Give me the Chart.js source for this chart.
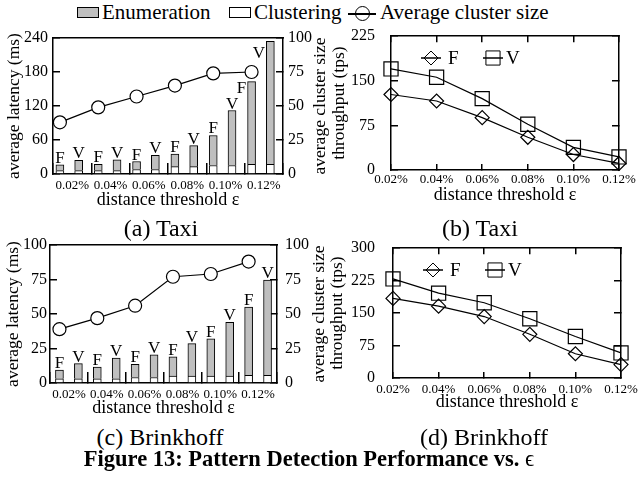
<!DOCTYPE html>
<html>
<head>
<meta charset="utf-8">
<script src="https://cdn.jsdelivr.net/npm/chart.js@4.4.0/dist/chart.umd.min.js"></script>
<style>
body{margin:0;width:639px;height:478px;background:#fff;position:relative;overflow:hidden;font-family:"Liberation Serif","Times New Roman",serif;color:#000}
canvas{position:absolute}
.t{position:absolute;white-space:nowrap;line-height:1}
.lg{top:2px;font-size:21px}
.cap{font-size:24px;transform:translate(-50%,-50%)}
</style>
</head>
<body>
<!-- shared legend -->
<div class="t" style="left:77px;top:7px;width:20px;height:9px;border:1.5px solid #000;background:#bfbfbf"></div>
<div class="t lg" style="left:102px">Enumeration</div>
<div class="t" style="left:229px;top:7px;width:20px;height:9px;border:1.5px solid #000;background:#fff"></div>
<div class="t lg" style="left:254px">Clustering</div>
<div class="t" style="left:348px;top:13px;width:28px;height:1.5px;background:#000"></div>
<div class="t" style="left:355px;top:6px;width:15px;height:15px;border:1.5px solid #000;border-radius:50%;box-sizing:border-box"></div>
<div class="t lg" style="left:380px">Average cluster size</div>

<canvas id="ca" width="332" height="186" style="left:0;top:30px"></canvas>
<canvas id="cb" width="319" height="185" style="left:320px;top:25px"></canvas>
<canvas id="cc" width="332" height="186" style="left:0;top:237px"></canvas>
<canvas id="cd" width="319" height="185" style="left:320px;top:237px"></canvas>

<div class="t cap" style="left:161px;top:228px">(a) Taxi</div>
<div class="t cap" style="left:480px;top:228px">(b) Taxi</div>
<div class="t cap" style="left:160px;top:437px">(c) Brinkhoff</div>
<div class="t cap" style="left:484px;top:437px">(d) Brinkhoff</div>
<div class="t" style="left:309px;top:459px;transform:translate(-50%,-50%);font-size:22.5px;font-weight:bold">Figure 13: Pattern Detection Performance vs. <span style="font-weight:normal">ϵ</span></div>

<script>
// ── data ──
const catLabels=['0.02%','0.04%','0.06%','0.08%','0.10%','0.12%'];
const tagNames=['F','V'];

// (a) Taxi: latency split into clustering (bottom) + enumeration (top), ms
const taxiClusF=[6,6,8,13,15,17];
const taxiClusV=[6,6,8,13,15,17];
const taxiEnumF=[10,11,14,22,53,146];
const taxiEnumV=[18,19,25,37,97,217];
const taxiSize=[38,49,57,65,74,75];
// (b) Taxi throughput, tps
const taxiTpsF=[127,116,88,55,26,11];
const taxiTpsV=[170,156,120,77,38,22];
// (c) Brinkhoff latency, ms
const brClusF=[3,3,4,5,5,5.5];
const brClusV=[3,3,4,5,5,5.5];
const brEnumF=[6.3,8.5,9.5,14,27,49.5];
const brEnumV=[11,15,16.5,23.5,39,69];
const brSize=[39,47,56,77,79,88];
// (d) Brinkhoff throughput, tps
const brTpsF=[184,166,142,101,56,31];
const brTpsV=[229,196,174,137,96,58];

Chart.defaults.font.family="'Liberation Serif','Times New Roman',serif";
Chart.defaults.color='#000';

// ── text decorations: F/V tags on bars, right-hand title, in-plot key ──
function drawTags(chart,o){
  const ctx=chart.ctx;const meta=chart.getDatasetMeta(o.ds);
  ctx.save();ctx.font="17px 'Liberation Serif'";ctx.fillStyle='#000';ctx.textAlign='center';ctx.textBaseline='alphabetic';
  meta.data.forEach((el,i)=>{const s=(o.shift||{})[i]||[0,0];ctx.fillText(tagNames[i%2],el.x+s[0],el.y-2+s[1]);});
  ctx.restore();
}
function drawSide(chart,o){
  const ctx=chart.ctx,a=chart.chartArea;
  ctx.save();ctx.translate(a.right+o.dx,(a.top+a.bottom)/2);ctx.rotate(-Math.PI/2);
  ctx.font="17.5px 'Liberation Serif'";ctx.textAlign='center';ctx.textBaseline='middle';ctx.fillStyle='#000';
  ctx.fillText(o.text,0,0);ctx.restore();
}
function drawKey(chart,o){
  const ctx=chart.ctx,a=chart.chartArea;
  ctx.save();ctx.strokeStyle='#000';ctx.lineWidth=1.5;ctx.font="19px 'Liberation Serif'";ctx.textBaseline='middle';ctx.textAlign='left';
  chart.data.datasets.forEach((ds,i)=>{
    const x=a.left+o.at[i],y=Math.round(a.top+o.y);
    ctx.beginPath();ctx.moveTo(x-10,y);ctx.lineTo(x+10,y);ctx.stroke();
    ctx.fillStyle='rgba(0,0,0,0)';ctx.lineWidth=1;
    Chart.helpers.drawPoint(ctx,{pointStyle:ds.pointStyle,radius:ds.pointRadius,rotation:0,borderWidth:1},x,y);
    ctx.lineWidth=1.5;ctx.fillStyle='#000';ctx.fillText(ds.label,x+o.tx[i],y+1);
  });
  ctx.restore();
}
const deco={id:'deco',afterDraw(chart,args,o){
  if(o.tags)drawTags(chart,o.tags);
  if(o.side)drawSide(chart,o.side);
  if(o.key)drawKey(chart,o.key);
}};
Chart.register(deco);

function fixBox(w,h){return s=>{if(w!=null)s.width=w;if(h!=null)s.height=h;s.paddingLeft=s.paddingRight=s.paddingTop=s.paddingBottom=0;};}
// axis line + tick marks pointing into the plot (negative tick length)
const edge={display:true,color:'#000',width:1.5};
const inTicks=(len,offset)=>({display:true,drawOnChartArea:false,drawTicks:true,tickLength:-len,color:'#000',lineWidth:1.5,offset:!!offset});
const noGrid={display:false,drawTicks:false};

// ── latency charts (stacked bars + cluster size line) ──
function latencyChart(id,o){
  const pts=(f,v)=>f.flatMap((fv,i)=>[{x:i+o.offF,y:fv},{x:i+o.offV,y:v[i]}]);
  return new Chart(document.getElementById(id),{type:'bar',data:{datasets:[
    {type:'line',label:'Average cluster size',yAxisID:'y1',order:0,data:o.size.map((s,i)=>({x:i+o.offF,y:s})),
     borderColor:'#000',borderWidth:1.2,tension:0,pointRadius:6.5,pointBackgroundColor:'#fff',pointBorderColor:'#000',pointBorderWidth:1.2,clip:false},
    {label:'Clustering',stack:'s',order:1,data:pts(o.clusF,o.clusV),backgroundColor:'#fff',borderColor:'#000',borderWidth:1,barThickness:8},
    {label:'Enumeration',stack:'s',order:1,data:pts(o.enumF,o.enumV),backgroundColor:'#bfbfbf',borderColor:'#000',borderWidth:1,barThickness:8}
  ]},options:{responsive:false,animation:false,
    layout:{padding:{top:o.top,left:0,right:0,bottom:0}},
    plugins:{legend:{display:false},tooltip:{enabled:false},
      deco:{tags:{ds:2,shift:o.shift},side:{text:'average cluster size',dx:o.rtx}}},
    scales:{
      x:{type:'linear',min:0,max:6,offset:false,stacked:true,grid:inTicks(11,true),border:edge,
        afterBuildTicks:s=>{s.ticks=catLabels.map((_,i)=>({value:i+0.5}));},
        ticks:{autoSkip:false,maxRotation:0,padding:o.xpad+11,font:{size:13},callback:(v,i)=>catLabels[i]},
        title:{display:true,text:'distance threshold ε',font:{size:18},padding:{top:0,bottom:o.xtp}},
        afterFit:fixBox(null,o.xh)},
      xTop:{type:'linear',position:'top',min:0,max:6,offset:false,grid:noGrid,border:edge,ticks:{display:false},afterFit:fixBox(null,0)},
      y:{position:'left',stacked:true,min:0,max:o.ymax,grid:inTicks(7),border:edge,
        ticks:{stepSize:o.ystep,padding:o.ypad+7,font:{size:16}},
        title:{display:true,text:'average latency (ms)',font:{size:17.5},padding:{top:o.ytp,bottom:0}},
        afterFit:fixBox(o.yw,null)},
      y1:{position:'right',min:0,max:100,grid:inTicks(7),border:edge,
        ticks:{stepSize:25,padding:o.y1pad+7,font:{size:16}},
        afterFit:fixBox(o.y1w,null)}
    }}});
}

// ── throughput charts ──
function tpsChart(id,o){
  const mk=a=>a.map((v,i)=>({x:i,y:v}));
  return new Chart(document.getElementById(id),{type:'line',data:{datasets:[
    {label:'F',data:mk(o.f),borderColor:'#000',borderWidth:1.2,tension:0,pointStyle:'rectRot',pointRadius:7,
     pointBorderColor:'#000',pointBackgroundColor:'rgba(0,0,0,0)',pointBorderWidth:1.2,clip:false},
    {label:'V',data:mk(o.v),borderColor:'#000',borderWidth:1.2,tension:0,pointStyle:'rect',pointRadius:10,
     pointBorderColor:'#000',pointBackgroundColor:'rgba(0,0,0,0)',pointBorderWidth:1.2,clip:false}
  ]},options:{responsive:false,animation:false,
    layout:{padding:{top:o.top,left:0,right:o.right,bottom:0}},
    plugins:{legend:{display:false},tooltip:{enabled:false},
      deco:{key:{at:[40,102],y:22,tx:[17,13]}}},
    scales:{
      x:{type:'linear',min:0,max:5,grid:inTicks(6),border:edge,
        ticks:{stepSize:1,autoSkip:false,maxRotation:0,padding:o.xpad+6,font:{size:13},callback:v=>catLabels[v]},
        title:{display:true,text:'distance threshold ε',font:{size:18},padding:{top:0,bottom:o.xtp}},
        afterFit:fixBox(null,o.xh)},
      xTop:{type:'linear',position:'top',min:0,max:5,grid:inTicks(6),border:edge,
        ticks:{stepSize:1,display:false},afterFit:fixBox(null,0)},
      y:{min:0,max:o.ymax,grid:inTicks(7),border:edge,
        ticks:{stepSize:75,padding:o.ypad+7,font:{size:16}},
        title:{display:true,text:'throughput (tps)',font:{size:17.5},padding:{top:o.ytp,bottom:0}},
        afterFit:fixBox(o.yw,null)},
      yR:{type:'linear',position:'right',min:0,max:o.ymax,grid:inTicks(7),border:edge,
        ticks:{stepSize:75,display:false},afterFit:fixBox(0,null)}
    }}});
}

latencyChart('ca',{clusF:taxiClusF,clusV:taxiClusV,enumF:taxiEnumF,enumV:taxiEnumV,size:taxiSize,
  offF:0.18,offV:0.67,ymax:240,ystep:60,top:8,yw:53,y1w:49,xh:42,xpad:4,xtp:5,ypad:5,y1pad:5,ytp:3.5,rtx:37,
  shift:{10:[-10,13.5],11:[-11.5,19]}});
tpsChart('cb',{f:taxiTpsF,v:taxiTpsV,ymax:225,top:9,right:20,yw:71,xh:40,xpad:2,xtp:4,ypad:16,ytp:8.5});
latencyChart('cc',{clusF:brClusF,clusV:brClusV,enumF:brEnumF,enumV:brEnumV,size:brSize,
  offF:0.25,offV:0.75,ymax:100,ystep:25,top:8,yw:50,y1w:55,xh:40,xpad:4,xtp:4,ypad:3,y1pad:8,ytp:2.5,rtx:42});
tpsChart('cd',{f:brTpsF,v:brTpsV,ymax:300,top:8,right:18,yw:73,xh:44,xpad:4,xtp:9,ypad:18,ytp:6.5});
</script>
</body>
</html>
